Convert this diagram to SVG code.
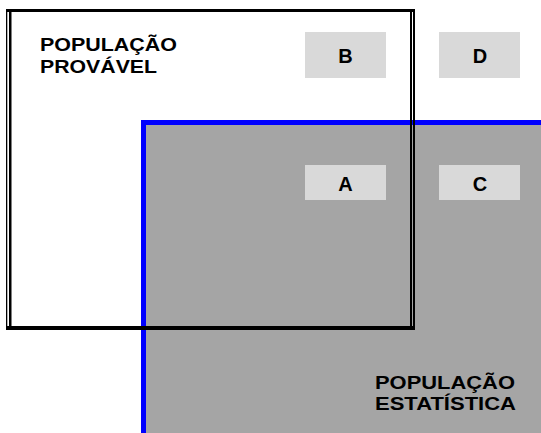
<svg xmlns="http://www.w3.org/2000/svg" width="541" height="433" viewBox="0 0 541 433">
  <style>
    .lbl { font-family: "Liberation Sans", Arial, sans-serif; font-weight: bold; font-size: 18px; fill: #000; }
    .cell rect { fill: #d9d9d9; }
    .cell text { font-family: "Liberation Sans", Arial, sans-serif; font-weight: bold; font-size: 20px; fill: #000; text-anchor: middle; }
    .bline { fill: #000; }
  </style>
  <rect width="541" height="433" fill="#fff"/>
  <g id="popEstatistica">
    <rect x="143.5" y="122.5" width="402" height="315" fill="#a5a5a5" stroke="#0000ff" stroke-width="5"/>
    <text class="lbl" x="375" y="389" textLength="140" lengthAdjust="spacingAndGlyphs">POPULAÇÃO</text>
    <text class="lbl" x="375" y="410" textLength="141" lengthAdjust="spacingAndGlyphs">ESTATÍSTICA</text>
  </g>
  <g id="cellB" class="cell">
    <rect x="305" y="32" width="81" height="46"/>
    <text x="345.5" y="63">B</text>
  </g>
  <g id="cellD" class="cell">
    <rect x="439" y="32" width="81" height="46"/>
    <text x="480" y="63">D</text>
  </g>
  <g id="cellA" class="cell">
    <rect x="305" y="165" width="81" height="35"/>
    <text x="345.5" y="191">A</text>
  </g>
  <g id="cellC" class="cell">
    <rect x="439" y="165" width="81" height="35"/>
    <text x="480" y="191">C</text>
  </g>
  <g id="popProvavel">
    <rect class="bline" x="6" y="9" width="409" height="3"/>
    <rect class="bline" x="6" y="9" width="1.3" height="321"/>
    <rect class="bline" x="9" y="9" width="2.5" height="321"/>
    <rect class="bline" x="410" y="9" width="2" height="321"/>
    <rect class="bline" x="413" y="9" width="2" height="321"/>
    <rect class="bline" x="6" y="326" width="409" height="4"/>
    <text class="lbl" x="40" y="51" textLength="137" lengthAdjust="spacingAndGlyphs">POPULAÇÃO</text>
    <text class="lbl" x="40" y="73" textLength="117" lengthAdjust="spacingAndGlyphs">PROVÁVEL</text>
  </g>
</svg>
